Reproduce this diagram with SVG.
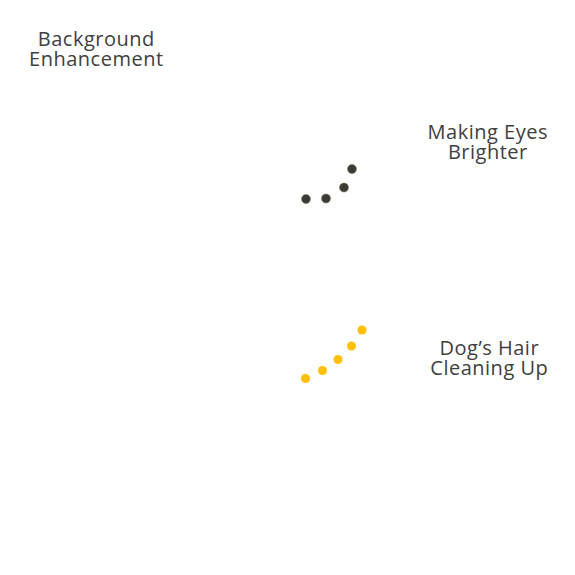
<svg xmlns="http://www.w3.org/2000/svg" width="575" height="575" viewBox="0 0 575 575">
<style>
.lbl{font-family:"Open Sans","Liberation Sans",sans-serif;font-size:20px;letter-spacing:0.5px;fill:#404040;text-anchor:middle}
.dk{fill:#3b3a36;stroke:#8a7a50;stroke-width:0.6}
.yl{fill:#ffc000}
</style>
<rect width="575" height="575" fill="#ffffff"/>
<g id="node-background">
<text class="lbl" x="96.3" y="46">Background</text>
<text class="lbl" x="96.3" y="66">Enhancement</text>
</g>
<g id="node-eyes">
<text class="lbl" x="487.8" y="139">Making Eyes</text>
<text class="lbl" x="487.8" y="159">Brighter</text>
</g>
<g id="node-hair">
<text class="lbl" x="489.3" y="355">Dog’s Hair</text>
<text class="lbl" x="489.3" y="375">Cleaning Up</text>
</g>
<g id="connectors">
<g id="dots-eyes">
<circle class="dk" cx="306" cy="199" r="4.5"/>
<circle class="dk" cx="326" cy="198.5" r="4.5"/>
<circle class="dk" cx="344" cy="187.5" r="4.5"/>
<circle class="dk" cx="352" cy="169" r="4.5"/>
</g>
<g id="dots-hair">
<circle class="yl" cx="305.5" cy="378.5" r="4.5"/>
<circle class="yl" cx="322.5" cy="370.5" r="4.5"/>
<circle class="yl" cx="338" cy="359.5" r="4.5"/>
<circle class="yl" cx="351.5" cy="346" r="4.5"/>
<circle class="yl" cx="362" cy="330" r="4.5"/>
</g>
</g>
</svg>
